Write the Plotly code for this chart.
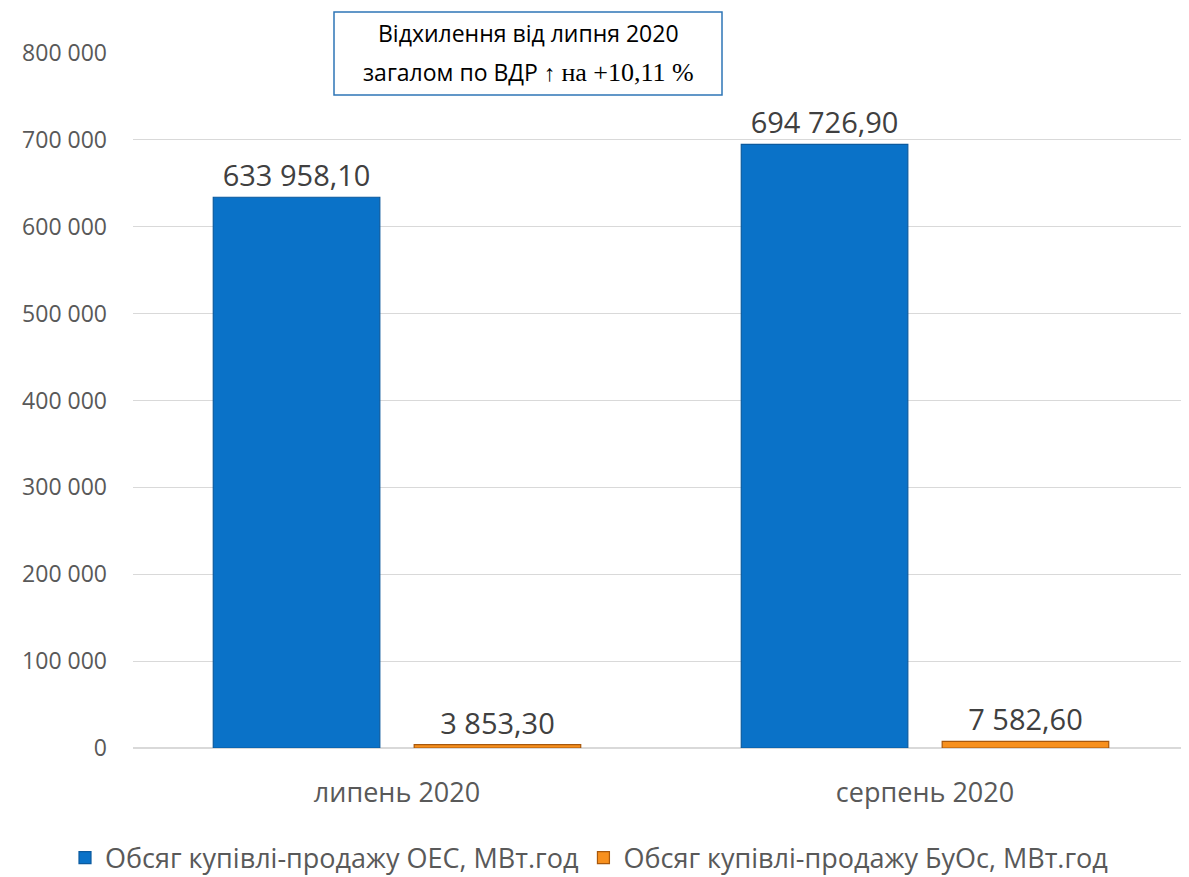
import plotly.graph_objects as go

categories = ["липень 2020", "серпень 2020"]
series_names = ["Обсяг купівлі-продажу ОЕС, МВт.год", "Обсяг купівлі-продажу БуОс, МВт.год"]
oes_values = [633958.10, 694726.90]
buos_values = [3853.30, 7582.60]
y_ticks = [0, 100000, 200000, 300000, 400000, 500000, 600000, 700000, 800000]
note_line1 = "Відхилення від липня 2020"
note_line2 = "загалом по ВДР ↑ <span style=\"font-family:'Liberation Serif';font-size:26px\">на +10,11 %</span>"

FONT = "Open Sans"
OFF = 8  # default page body margin
W, H = 1189 - OFF, 877 - OFF
L, T = 133 - OFF, 53 - OFF
BOT = 748 - OFF
PW, PH = W - L, BOT - T


def px(xr):
    return (xr - OFF - L) / PW


def py(yr):
    return (BOT - (yr - OFF)) / PH


fig = go.Figure()
fig.add_trace(go.Bar(
    x=categories, y=oes_values, name=series_names[0],
    marker=dict(color="#0A72C8", line=dict(color="#0B5A9E", width=1.2)),
    texttemplate="%{y:,.2f}", textposition="outside", cliponaxis=False,
    constraintext="none",
    textfont=dict(family=FONT, size=29, color="#404040"),
))
fig.add_trace(go.Bar(
    x=categories, y=buos_values, name=series_names[1],
    marker=dict(color="#F7901E", line=dict(color="#A8580C", width=1.2)),
    texttemplate="%{y:,.2f}", textposition="outside", cliponaxis=False,
    constraintext="none",
    textfont=dict(family=FONT, size=29, color="#404040"),
))

fig.update_layout(
    width=W, height=H,
    margin=dict(l=L, r=0, t=T, b=H - BOT, autoexpand=False),
    paper_bgcolor="white", plot_bgcolor="white",
    separators=", ",
    barmode="group", bargap=0.239, bargroupgap=0.171,
    font=dict(family=FONT, color="#595959"),
    legend=dict(
        orientation="h", xref="container", x=(589 - OFF) / W, xanchor="center",
        y=py(858), yanchor="middle",
        font=dict(family=FONT, size=27, color="#595959"),
        itemwidth=30, traceorder="normal",
    ),
    xaxis=dict(
        showgrid=False, showline=False, ticks="", automargin=False,
        tickangle=0,
        tickfont=dict(family=FONT, size=27, color="#595959"),
        ticklabelstandoff=26,
    ),
    yaxis=dict(
        range=[0, 800000], tickvals=y_ticks, tickformat=",d", automargin=False,
        showgrid=True, gridcolor="#D9D9D9", gridwidth=1,
        zeroline=True, zerolinecolor="#D9D9D9", zerolinewidth=1.5,
        showline=False, ticks="",
        tickfont=dict(family=FONT, size=23, color="#595959"),
        ticklabelstandoff=25,
    ),
)

fig.add_shape(
    type="rect", xref="paper", yref="paper",
    x0=px(334), x1=px(722), y0=py(95), y1=py(12),
    line=dict(color="#2E75B6", width=1.5), fillcolor="white", layer="above",
)
cx = px(528)
fig.add_annotation(
    xref="paper", yref="paper", x=cx, y=py(33),
    text=note_line1, showarrow=False, xanchor="center", yanchor="middle",
    font=dict(family=FONT, size=23, color="#000000"),
)
fig.add_annotation(
    xref="paper", yref="paper", x=cx, y=py(72),
    text=note_line2, showarrow=False, xanchor="center", yanchor="middle",
    font=dict(family=FONT, size=23, color="#000000"),
)

fig.write_html("out.html")
